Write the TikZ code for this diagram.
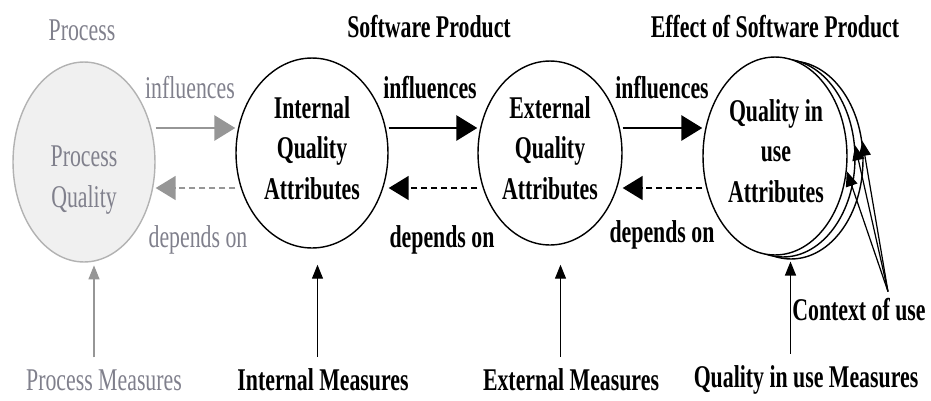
\documentclass[tikz,border=0pt]{standalone}
\usepackage{fontspec}
\setmainfont{Liberation Serif}[FakeStretch=0.69]
\usetikzlibrary{arrows.meta, shapes.geometric, calc}

\definecolor{procgray}{RGB}{128,128,140}
\definecolor{arrgray}{RGB}{150,150,150}

\tikzset{
  bubble/.style={ellipse, draw, line width=0.8pt, fill=white, inner sep=0pt},
  lbl/.style={font=\fontsize{18}{23}\selectfont\bfseries, align=center, inner sep=1pt},
  glbl/.style={font=\fontsize{18}{23}\selectfont, text=procgray, align=center, inner sep=1pt},
  infl/.style={line width=1.7pt, -{Triangle[length=0.42cm, width=0.5cm]}},
  dep/.style={line width=0.9pt, dash pattern=on 0.12cm off 0.08cm, -{Triangle[length=0.4cm, width=0.48cm]}},
  meas/.style={line width=0.7pt, -{Triangle[length=0.28cm, width=0.22cm]}},
  ctxarr/.style={line width=0.7pt, -{Triangle[length=0.3cm, width=0.24cm]}},
}

\begin{document}
\begin{tikzpicture}[x=0.02cm, y=-0.02cm]
  \useasboundingbox (0,0) rectangle (931,400);

  % the quality circles
  \node[bubble, draw=gray!60, fill=black!6, minimum width=2.84cm, minimum height=4cm] (pq) at (84,162) {};
  \node[bubble, minimum width=3.04cm, minimum height=3.8cm] (int) at (312,153) {};
  \node[bubble, minimum width=2.88cm, minimum height=3.68cm] (ext) at (550,153) {};
  \node[bubble, minimum width=2.88cm, minimum height=3.96cm] (qiuB) at (791,160) {};
  \node[bubble, minimum width=2.88cm, minimum height=3.96cm] (qiuA) at (783,158) {};
  \node[bubble, minimum width=2.88cm, minimum height=3.96cm] (qiu) at (775,156) {};

  \node[glbl] (pqt) at (84,180) {Process\\Quality};
  \node[lbl] (intt) at (312,148) {Internal\\Quality\\Attributes};
  \node[lbl] (extt) at (550,148) {External\\Quality\\Attributes};
  \node[lbl] (qiut) at (776,151) {Quality in\\use\\Attributes};

  % headings and labels
  \node[glbl] (proc) at (82,30) {Process};
  \node[lbl] (sw) at (429,27) {Software Product};
  \node[lbl] (eff) at (775,27) {Effect of Software Product};
  \node[glbl] (ginf) at (190,88) {influences};
  \node[glbl] (gdep) at (198,240) {depends on};
  \node[lbl] (inf1) at (430,88) {influences};
  \node[lbl] (dep1) at (442,240) {depends on};
  \node[lbl] (inf2) at (662,88) {influences};
  \node[lbl] (dep2) at (662,235) {depends on};
  \node[lbl] (ctx) at (859,310) {Context of use};

  \node[glbl] (pm) at (104,380) {Process Measures};
  \node[lbl] (intm) at (323,380) {Internal Measures};
  \node[lbl] (extm) at (571,380) {External Measures};
  \node[lbl] (qium) at (806,380) {Quality in use Measures};

  % influences / depends on
  \coordinate (yinf) at (0,128);
  \coordinate (ydep) at (0,188);
  \draw[infl, arrgray] (pq.east |- yinf) -- (int.west |- yinf);
  \draw[infl] (int.east |- yinf) -- (ext.west |- yinf);
  \draw[infl] (ext.east |- yinf) -- (qiu.west |- yinf);
  \draw[dep, arrgray] (int.west |- ydep) -- (pq.east |- ydep);
  \draw[dep] (ext.west |- ydep) -- (int.east |- ydep);
  \draw[dep] (qiu.west |- ydep) -- (ext.east |- ydep);

  % measures
  \foreach \m/\c/\col in {pm/pq/arrgray, intm/int/black, extm/ext/black, qium/qiu/black} {
    \coordinate (\m-base) at ($(\m.north)!.5!(\m.north -| \c.south) + (0,-10)$);
    \draw[meas, \col] (\m-base) -- ++(0,-92);
  }

  % context of use
  \coordinate (ctxb) at ([xshift=0.58cm, yshift=0.1cm]ctx.north);
  \draw[ctxarr] (ctxb) -- (qiu.-12);
  \draw[ctxarr] (ctxb) -- (qiuA.10);
  \draw[ctxarr] (ctxb) -- (qiuB.15);
\end{tikzpicture}
\end{document}
